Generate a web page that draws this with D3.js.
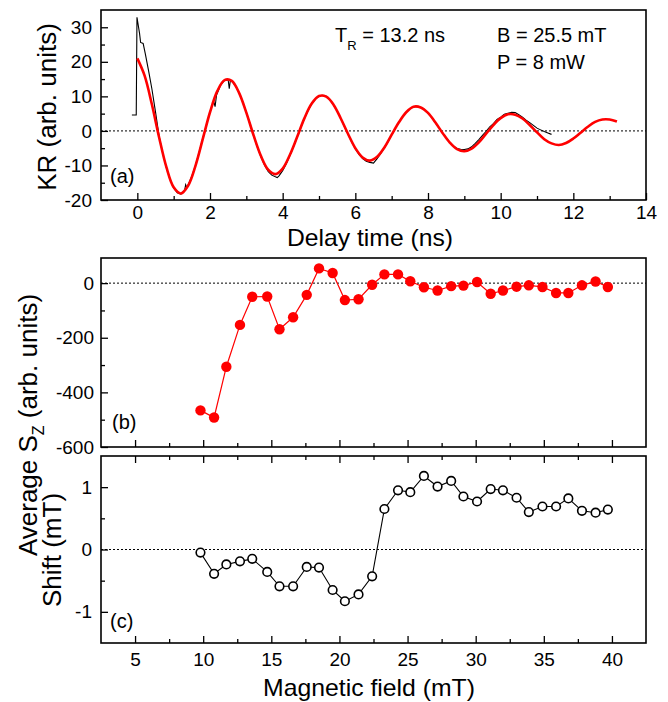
<!DOCTYPE html>
<html><head><meta charset="utf-8">
<script src="https://cdn.jsdelivr.net/npm/d3@7"></script>
<style>body{margin:0;background:#fff} text{font-family:Arial,"Liberation Sans",sans-serif;fill:#000}</style>
</head><body><svg id="c" width="668" height="702"></svg>
<script>
// ---------- data ----------
const redTime = [0,0.2,0.4,0.6,0.8,1.0,1.2,1.4,1.6,1.8,2.0,2.2,2.4,2.6,2.8,3.0,3.2,3.4,3.6,3.8,4.0,4.2,4.4,4.6,4.8,5.0,5.2,5.4,5.6,5.8,6.0,6.2,6.4,6.6,6.8,7.0,7.2,7.4,7.6,7.8,8.0,8.2,8.4,8.6,8.8,9.0,9.2,9.4,9.6,9.8,10.0,10.2,10.4,10.6,10.8,11.0,11.2,11.4,11.6,11.8,12.0,12.2,12.4,12.6,12.8,13.0,13.2];
const redKR = [21.0,16.0,7.7,-1.9,-10.5,-16.3,-18.1,-15.8,-10.1,-2.4,5.4,11.5,14.7,14.5,11.0,5.3,-1.3,-7.2,-11.2,-12.5,-10.9,-6.9,-1.7,3.7,7.9,10.1,9.9,7.6,3.6,-0.9,-5.0,-7.7,-8.6,-7.5,-4.8,-1.1,2.5,5.4,7.0,6.8,5.2,2.5,-0.6,-3.4,-5.3,-5.9,-5.1,-3.3,-0.8,1.7,3.7,4.8,4.7,3.6,1.7,-0.4,-2.4,-3.6,-4.1,-3.5,-2.2,-0.5,1.2,2.6,3.3,3.3,2.7];
const blackTime = [-0.15,-0.03,-0.01,0.06,0.09,0.16,0.22,0.31,0.40,0.50,0.60,0.70,0.80,0.90,1.00,1.10,1.20,1.30,1.33,1.36,1.40,1.50,1.60,1.70,1.80,1.90,2.00,2.10,2.14,2.18,2.30,2.40,2.50,2.53,2.56,2.60,2.70,2.80,2.90,3.00,3.10,3.20,3.30,3.40,3.50,3.60,3.70,3.80,3.85,3.90,4.00,4.10,4.20,4.30,4.40,4.50,4.60,4.70,4.80,4.90,5.00,5.10,5.20,5.30,5.40,5.50,5.60,5.70,5.80,5.90,6.00,6.10,6.20,6.30,6.40,6.50,6.60,6.70,6.80,6.90,7.00,7.10,7.20,7.30,7.40,7.50,7.60,7.70,7.80,7.90,8.00,8.10,8.20,8.30,8.40,8.50,8.60,8.70,8.80,8.90,9.00,9.10,9.20,9.30,9.40,9.50,9.60,9.70,9.80,9.90,10.00,10.10,10.20,10.30,10.40,10.50,10.60,10.70,10.80,10.90,11.00,11.10,11.20,11.30,11.40];
const blackKR = [4.6,4.6,32.9,28.3,25.6,25.3,22.3,17.4,12.2,5.5,-1.6,-6.6,-10.7,-14.0,-16.5,-17.9,-18.3,-17.3,-15.6,-16.4,-15.6,-13.1,-10.0,-6.2,-2.2,1.7,5.5,8.6,7.0,10.4,13.4,14.6,14.8,12.2,14.6,14.4,13.0,11.1,8.4,5.4,2.0,-1.4,-4.6,-7.5,-9.9,-11.7,-12.8,-13.3,-13.5,-13.0,-11.5,-9.5,-7.1,-4.5,-1.8,1.0,3.6,5.9,7.8,9.2,10.0,10.3,10.0,9.0,7.5,5.7,3.5,1.3,-1.0,-3.2,-5.2,-6.8,-8.0,-8.8,-9.1,-9.3,-8.0,-6.5,-4.9,-3.1,-1.2,0.8,2.6,4.1,5.4,6.4,6.9,7.1,6.8,6.2,5.1,3.9,2.4,0.9,-0.6,-2.0,-3.3,-4.4,-5.1,-5.3,-5.4,-5.2,-4.6,-3.6,-2.5,-1.3,-0.1,1.2,2.1,3.3,4.0,4.8,5.1,5.4,5.3,4.7,4.0,3.1,2.4,1.6,0.8,0.3,-0.2,-0.6,-1.0];
const field = [9.8,10.8,11.7,12.7,13.6,14.7,15.6,16.6,17.6,18.5,19.5,20.4,21.4,22.4,23.3,24.3,25.2,26.2,27.2,28.2,29.1,30.1,31.1,32.0,33.0,33.9,34.9,35.9,36.8,37.8,38.8,39.7];
const avgSz = [-466,-492,-306,-153,-50,-49,-169,-125,-43,54,37,-62,-59,-6,32,32,7,-15,-27,-11,-9,4,-39,-27,-13,-8,-14,-36,-36,-8,6,-14];
const shift = [-0.05,-0.39,-0.24,-0.19,-0.15,-0.36,-0.59,-0.59,-0.28,-0.29,-0.65,-0.83,-0.72,-0.43,0.65,0.95,0.92,1.18,1.01,1.10,0.85,0.77,0.97,0.95,0.83,0.60,0.69,0.69,0.82,0.62,0.59,0.64];
const delayTicks = [0,2,4,6,8,10,12,14];
const delayMinor = [1,3,5,7,9,11,13];
const krTicks = [-20,-10,0,10,20,30];
const krMinor = [-15,-5,5,15,25];
const fieldTicks = [5,10,15,20,25,30,35,40];
const fieldMinor = [7.5,12.5,17.5,22.5,27.5,32.5,37.5];
const szTicks = [-600,-400,-200,0];
const szMinor = [-500,-300,-100];
const shiftTicks = [-1,0,1];
const shiftMinor = [-0.5,0.5];

// ---------- layout ----------
const svg = d3.select("#c");
const L = 101, R = 646;
const fmt = d => String(d);

const xA = d3.scaleLinear().domain([-1,14]).range([L,R]);
const yA = d3.scaleLinear().domain([-20,35]).range([200,10]);
const xF = d3.scaleLinear().domain([2.5,42.5]).range([L,R]);
const yB = d3.scaleLinear().domain([-600,92]).range([447,258]);
const yC = d3.scaleLinear().domain([-1.5,1.5]).range([643,456]);

function axisG(axis, tx, ty, fs){
  const g = svg.append("g").attr("transform",`translate(${tx},${ty})`).call(axis);
  g.select(".domain").remove();
  g.selectAll(".tick line").attr("stroke","#000").attr("stroke-width",1.3);
  g.selectAll(".tick text").attr("font-size",fs||19).attr("font-family","Arial, 'Liberation Sans', sans-serif").attr("fill","#000");
  return g;
}
function zeroLine(x, y){
  svg.append("line").attr("x1",x.range()[0]).attr("x2",x.range()[1])
    .attr("y1",y(0)).attr("y2",y(0)).attr("stroke","#000").attr("stroke-width",1).attr("stroke-dasharray","2,2");
}
function frame(x, y){
  svg.append("rect").attr("x",x.range()[0]).attr("y",y.range()[1])
    .attr("width",x.range()[1]-x.range()[0]).attr("height",y.range()[0]-y.range()[1])
    .attr("fill","none").attr("stroke","#000").attr("stroke-width",1.6);
}

// ---------- panel (a) ----------
zeroLine(xA,yA);
const lineA = d3.line().x(d=>xA(d[0])).y(d=>yA(d[1]));
svg.append("path").datum(blackTime.map((t,i)=>[t,blackKR[i]]))
  .attr("d",lineA).attr("fill","none").attr("stroke","#000").attr("stroke-width",1.1);
svg.append("path").datum(redTime.map((t,i)=>[t,redKR[i]]))
  .attr("d",lineA.curve(d3.curveCatmullRom)).attr("fill","none").attr("stroke","#ff0000").attr("stroke-width",2.6);
axisG(d3.axisBottom(xA).tickValues(delayTicks).tickSize(-7).tickPadding(6).tickFormat(fmt),0,200);
axisG(d3.axisBottom(xA).tickValues(delayMinor).tickSize(-4).tickFormat(""),0,200);
axisG(d3.axisLeft(yA).tickValues(krTicks).tickSize(-7).tickPadding(9).tickFormat(fmt),L,0);
axisG(d3.axisLeft(yA).tickValues(krMinor).tickSize(-4).tickFormat(""),L,0);
frame(xA,yA);

// ---------- panel (b) ----------
zeroLine(xF,yB);
const lineB = d3.line().x((d,i)=>xF(field[i])).y(d=>yB(d));
svg.append("path").datum(avgSz).attr("d",lineB).attr("fill","none").attr("stroke","#ff0000").attr("stroke-width",1.2);
svg.append("g").selectAll("circle").data(avgSz).join("circle")
  .attr("cx",(d,i)=>xF(field[i])).attr("cy",d=>yB(d)).attr("r",5.2).attr("fill","#ff0000");
axisG(d3.axisBottom(xF).tickValues(fieldTicks).tickSize(-7).tickFormat(""),0,447);
axisG(d3.axisBottom(xF).tickValues(fieldMinor).tickSize(-4).tickFormat(""),0,447);
axisG(d3.axisLeft(yB).tickValues(szTicks).tickSize(-7).tickPadding(7).tickFormat(fmt),L,0);
axisG(d3.axisLeft(yB).tickValues(szMinor).tickSize(-4).tickFormat(""),L,0);
frame(xF,yB);

// ---------- panel (c) ----------
zeroLine(xF,yC);
const lineC = d3.line().x((d,i)=>xF(field[i])).y(d=>yC(d));
svg.append("path").datum(shift).attr("d",lineC).attr("fill","none").attr("stroke","#000").attr("stroke-width",1.1);
svg.append("g").selectAll("circle").data(shift).join("circle")
  .attr("cx",(d,i)=>xF(field[i])).attr("cy",d=>yC(d)).attr("r",4.3)
  .attr("fill","#fff").attr("stroke","#000").attr("stroke-width",1.6);
axisG(d3.axisBottom(xF).tickValues(fieldTicks).tickSize(-7).tickPadding(10).tickFormat(fmt),0,643);
axisG(d3.axisBottom(xF).tickValues(fieldMinor).tickSize(-4).tickFormat(""),0,643);
axisG(d3.axisTop(xF).tickValues(fieldTicks).tickSize(-7).tickFormat(""),0,456);
axisG(d3.axisTop(xF).tickValues(fieldMinor).tickSize(-4).tickFormat(""),0,456);
axisG(d3.axisLeft(yC).tickValues(shiftTicks).tickSize(-7).tickPadding(9).tickFormat(fmt),L,0);
axisG(d3.axisLeft(yC).tickValues(shiftMinor).tickSize(-4).tickFormat(""),L,0);
frame(xF,yC);

// ---------- texts ----------
function txt(x,y,s,fs,anchor,len){
  const t = svg.append("text").attr("x",x).attr("y",y).attr("font-size",fs).attr("text-anchor",anchor||"start").text(s);
  if(len) t.attr("textLength",len).attr("lengthAdjust","spacingAndGlyphs");
  return t;
}
const tr = svg.append("text").attr("x",335).attr("y",42).attr("font-size",20);
tr.append("tspan").text("T");
tr.append("tspan").attr("dy",8).attr("font-size",13).text("R");
tr.append("tspan").attr("dy",-8).text(" = 13.2 ns");
txt(497,42,"B = 25.5 mT",20);
txt(497,69,"P = 8 mW",20);
txt(110,183,"(a)",20);
txt(112,429,"(b)",20);
txt(110,628,"(c)",20);
txt(370,246,"Delay time (ns)",24,"middle",166);
txt(369,696,"Magnetic field (mT)",24,"middle",212);

function ytitle(bx, cy, build){
  const t = svg.append("text").attr("transform",`translate(${bx},${cy}) rotate(-90)`)
    .attr("font-size",26).attr("text-anchor","middle");
  build(t);
}
ytitle(56,107,t=>t.text("KR (arb. units)"));
ytitle(37,425,t=>{
  t.append("tspan").text("Average S");
  t.append("tspan").attr("dy",7).attr("font-size",16).text("Z");
  t.append("tspan").attr("dy",-7).text(" (arb. units)");
});
ytitle(61,550,t=>t.text("Shift (mT)"));
</script></body></html>
